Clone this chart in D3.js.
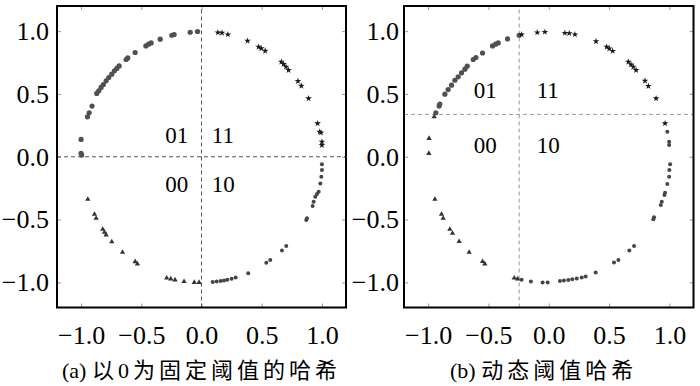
<!DOCTYPE html>
<html>
<head>
<meta charset="utf-8">
<script src="https://cdn.jsdelivr.net/npm/d3@7"></script>
<style>
  html, body { margin: 0; padding: 0; background: #fff; }
</style>
</head>
<body>
<div id="chart"></div>
<script>
const width = 700;
const height = 386;
const serif = "'Liberation Serif', 'Times New Roman', 'Noto Sans CJK SC', serif";

// tick values shared by both panels
const tickValues = [-1.0, -0.5, 0.0, 0.5, 1.0];
const quadNames = ["01", "11", "00", "10"];
// captions: [tag, text]
const captionA = ["(a) ", "以0为固定阈值的哈希"];
const captionB = ["(b) ", "动态阈值哈希"];

// thresholds (x, y) for each panel
const thresholdA = [0, 0];
const thresholdB = [-0.245, 0.337];

// (a) fixed threshold: points per code, [x, y]
const aCode01 = [[-1.0, 0.138], [-1.0, 0.027], [-0.995, 0.013], [-0.947, 0.318], [-0.933, 0.35], [-0.909, 0.403],
  [-0.87, 0.504], [-0.853, 0.525], [-0.834, 0.552], [-0.815, 0.575], [-0.792, 0.604], [-0.77, 0.631],
  [-0.745, 0.657], [-0.723, 0.684], [-0.703, 0.703], [-0.684, 0.723], [-0.626, 0.774], [-0.612, 0.787],
  [-0.551, 0.83], [-0.462, 0.882], [-0.44, 0.896], [-0.418, 0.906], [-0.343, 0.936], [-0.246, 0.967],
  [-0.227, 0.973], [-0.094, 0.991], [-0.033, 0.997]];
const aCode11 = [[0.136, 0.989], [0.17, 0.986], [0.219, 0.973], [0.382, 0.922], [0.474, 0.874], [0.496, 0.862],
  [0.529, 0.843], [0.663, 0.755], [0.682, 0.737], [0.702, 0.715], [0.723, 0.689], [0.801, 0.602],
  [0.829, 0.564], [0.889, 0.464], [0.964, 0.265], [0.981, 0.199], [0.992, 0.191], [1.0, 0.119], [1.0, 0.093]];
const aCode10 = [[1.0, -0.06], [1.0, -0.106], [0.995, -0.159], [0.987, -0.212], [0.973, -0.278], [0.959, -0.296],
  [0.945, -0.318], [0.931, -0.358], [0.923, -0.392], [0.876, -0.49], [0.87, -0.503], [0.704, -0.71],
  [0.668, -0.747], [0.571, -0.821], [0.538, -0.843], [0.388, -0.927], [0.284, -0.962], [0.25, -0.972],
  [0.214, -0.98], [0.187, -0.985], [0.159, -0.99], [0.126, -0.993], [0.093, -0.997]];
const aCode00 = [[-0.944, -0.339], [-0.889, -0.458], [-0.875, -0.49], [-0.82, -0.577], [-0.806, -0.601],
  [-0.792, -0.622], [-0.745, -0.676], [-0.656, -0.76], [-0.551, -0.835], [-0.532, -0.853], [-0.289, -0.966],
  [-0.255, -0.972], [-0.22, -0.98], [-0.145, -0.993], [-0.06, -1.0], [-0.02, -1.0]];

// (b) dynamic threshold
const bCode01 = [[-0.936, 0.35], [-0.909, 0.403], [-0.903, 0.419], [-0.861, 0.498], [-0.834, 0.535], [-0.806, 0.57],
  [-0.778, 0.609], [-0.751, 0.636], [-0.723, 0.668], [-0.695, 0.697], [-0.676, 0.721], [-0.626, 0.774],
  [-0.604, 0.79], [-0.549, 0.826], [-0.466, 0.882], [-0.441, 0.896], [-0.419, 0.906], [-0.341, 0.938],
  [-0.245, 0.967]];
const bCode11 = [[-0.225, 0.973], [-0.095, 0.989], [-0.032, 0.993], [0.134, 0.985], [0.17, 0.983], [0.217, 0.973],
  [0.392, 0.919], [0.48, 0.874], [0.502, 0.861], [0.53, 0.842], [0.66, 0.755], [0.682, 0.734], [0.701, 0.715],
  [0.724, 0.689], [0.798, 0.604], [0.826, 0.562], [0.89, 0.464], [0.964, 0.265]];
const bCode10 = [[0.983, 0.199], [0.998, 0.119], [0.998, 0.093], [1.006, -0.06], [1.0, -0.106], [0.998, -0.159],
  [0.983, -0.217], [0.964, -0.286], [0.959, -0.304], [0.937, -0.358], [0.929, -0.384], [0.873, -0.482],
  [0.867, -0.497], [0.707, -0.71], [0.668, -0.747], [0.577, -0.821], [0.541, -0.842], [0.389, -0.922],
  [0.306, -0.953], [0.273, -0.961], [0.232, -0.969], [0.195, -0.976], [0.162, -0.982], [0.126, -0.986],
  [0.093, -0.99], [-0.009, -1.0], [-0.051, -1.0], [-0.148, -0.993], [-0.225, -0.98]];
const bCode00 = [[-0.992, 0.146], [-0.994, 0.027], [-0.95, 0.318], [-0.944, -0.339], [-0.889, -0.458],
  [-0.875, -0.49], [-0.82, -0.577], [-0.798, -0.609], [-0.743, -0.675], [-0.66, -0.76], [-0.549, -0.834],
  [-0.53, -0.853], [-0.286, -0.966], [-0.258, -0.972]];

const svg = d3.select("#chart")
  .append("svg")
  .attr("width", width)
  .attr("height", height)
  .attr("viewBox", [0, 0, width, height])
  .style("font-family", serif);

const y = d3.scaleLinear().domain([-1.2, 1.2]).range([307.5, 6]);

// marker styles per code
const markers = {
  "01": { type: "circle", r: 2.6, fill: "#505050" },
  "11": { type: d3.symbolStar, size: 14, fill: "#1a1a1a" },
  "10": { type: "circle", r: 2.0, fill: "#454545" },
  "00": { type: d3.symbolTriangle, size: 12, fill: "#333" }
};

const drawPanel = (cfg) => {
  const x = d3.scaleLinear().domain([-1.2, 1.2]).range([cfg.x0, cfg.x1]);
  const g = svg.append("g");
  const fmt = d3.format(".1f");

  // inward ticks on all four sides
  const tickStyle = a => a.call(s => s.select(".domain").remove())
    .call(s => s.selectAll(".tick line").attr("stroke", "#999"))
    .call(s => s.selectAll(".tick text").attr("fill", "#000").attr("font-size", 26));

  g.append("g")
    .attr("transform", `translate(0,${y.range()[0]})`)
    .call(d3.axisBottom(x).tickValues(tickValues).tickFormat(fmt).tickSizeInner(-4).tickSizeOuter(0).tickPadding(18))
    .call(tickStyle).attr("font-family", null);
  g.append("g")
    .attr("transform", `translate(0,${y.range()[1]})`)
    .call(d3.axisTop(x).tickValues(tickValues).tickFormat("").tickSizeInner(-4).tickSizeOuter(0))
    .call(tickStyle);
  g.append("g")
    .attr("transform", `translate(${cfg.x0},0)`)
    .call(d3.axisLeft(y).tickValues(tickValues).tickFormat(fmt).tickSizeInner(-4).tickSizeOuter(0).tickPadding(cfg.yPad))
    .call(tickStyle).attr("font-family", null);
  g.append("g")
    .attr("transform", `translate(${cfg.x1},0)`)
    .call(d3.axisRight(y).tickValues(tickValues).tickFormat("").tickSizeInner(-4).tickSizeOuter(0))
    .call(tickStyle);

  // threshold lines
  g.append("line")
    .attr("x1", x(cfg.thr[0])).attr("x2", x(cfg.thr[0]))
    .attr("y1", y(-1.2)).attr("y2", y(1.2))
    .attr("stroke", cfg.lineColor).attr("stroke-dasharray", "4,3");
  g.append("line")
    .attr("x1", x(-1.2)).attr("x2", x(1.2))
    .attr("y1", y(cfg.thr[1])).attr("y2", y(cfg.thr[1]))
    .attr("stroke", cfg.lineColor).attr("stroke-dasharray", "4,3");

  // points
  cfg.groups.forEach(([code, pts]) => {
    const m = markers[code];
    if (m.type === "circle") {
      g.append("g").selectAll("circle")
        .data(pts)
        .join("circle")
        .attr("cx", d => x(d[0]))
        .attr("cy", d => y(d[1]))
        .attr("r", m.r)
        .attr("fill", m.fill);
    } else {
      g.append("g").selectAll("path")
        .data(pts)
        .join("path")
        .attr("transform", d => `translate(${x(d[0])},${y(d[1])})`)
        .attr("d", d3.symbol(m.type, m.size))
        .attr("fill", m.fill);
    }
  });

  // quadrant code labels
  const lab = g.append("g").attr("font-size", 23).attr("fill", "#000");
  quadNames.forEach((name, i) => {
    const left = i % 2 === 0;
    lab.append("text")
      .attr("x", x(left ? cfg.labelX[0] : cfg.labelX[1]))
      .attr("y", y(i < 2 ? cfg.labelY[0] : cfg.labelY[1]))
      .attr("text-anchor", left ? "end" : "start")
      .text(name);
  });

  // frame
  g.append("rect")
    .attr("x", cfg.x0).attr("y", y(1.2))
    .attr("width", cfg.x1 - cfg.x0).attr("height", y(-1.2) - y(1.2))
    .attr("fill", "none").attr("stroke", "#000").attr("stroke-width", 2);

  // caption
  const cap = g.append("text")
    .attr("x", cfg.capX)
    .attr("y", 378)
    .attr("font-size", 22);
  cap.append("tspan").text(cfg.caption[0]);
  cap.append("tspan").attr("letter-spacing", 4).text(cfg.caption[1]);
};

drawPanel({
  x0: 57, x1: 346, yPad: 8, thr: thresholdA, lineColor: "#555",
  groups: [["01", aCode01], ["11", aCode11], ["10", aCode10], ["00", aCode00]],
  labelX: [-0.11, 0.085], labelY: [0.106, -0.278],
  caption: captionA, capX: 62
});
drawPanel({
  x0: 404, x1: 693.5, yPad: 5, thr: thresholdB, lineColor: "#999",
  groups: [["01", bCode01], ["11", bCode11], ["10", bCode10], ["00", bCode00]],
  labelX: [-0.432, -0.1], labelY: [0.464, 0.032],
  caption: captionB, capX: 450
});
</script>
</body>
</html>
